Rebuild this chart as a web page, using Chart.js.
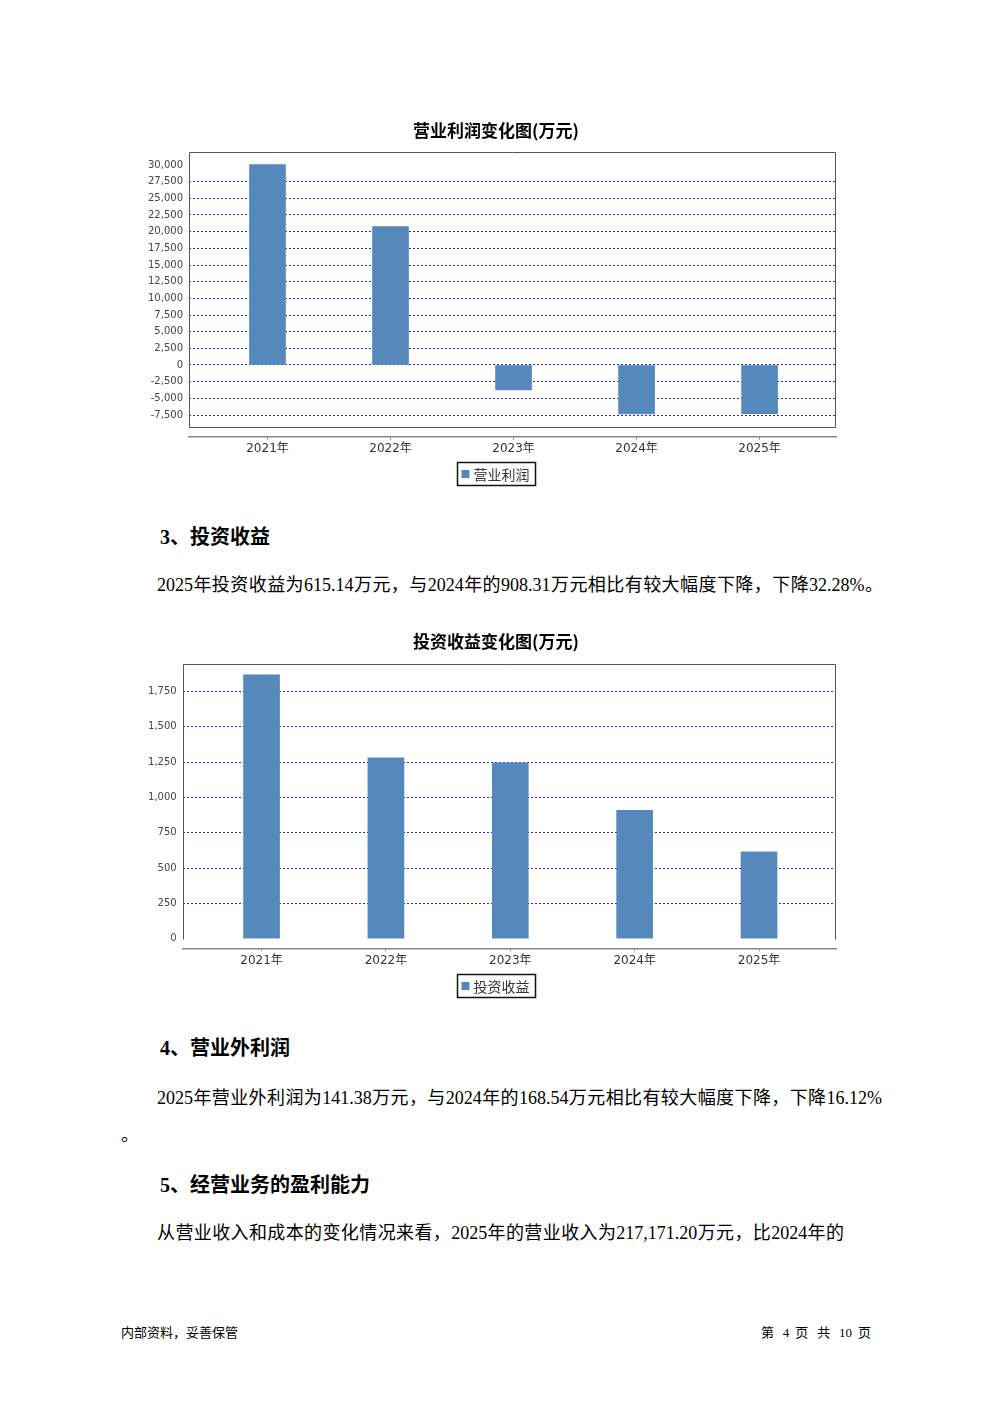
<!DOCTYPE html>
<html><head><meta charset="utf-8">
<script src="https://cdn.jsdelivr.net/npm/chart.js@4.4.1/dist/chart.umd.min.js"></script>
<style>
html,body{margin:0;padding:0;background:#fff;}
body{width:992px;height:1403px;position:relative;overflow:hidden;}
canvas{position:absolute;}
.t{position:absolute;height:30px;line-height:30px;color:#000;font-family:"Liberation Serif","Noto Sans CJK SC",serif;}
.j{text-align:justify;text-align-last:justify;text-justify:inter-character;}
.h{font-weight:bold;font-size:20px;white-space:nowrap;}
.b{font-size:18px;}
.f{font-size:13px;}
</style></head><body>
<canvas id="c1" width="720" height="385" style="left:136px;top:110px;"></canvas>
<div class="t h" style="left:160px;top:522px;">3、投资收益</div>
<div class="t b j" style="left:157px;top:570px;width:726px;">2025年投资收益为615.14万元，与2024年的908.31万元相比有较大幅度下降，下降32.28%。</div>
<canvas id="c2" width="720" height="385" style="left:136px;top:621px;"></canvas>
<div class="t h" style="left:160px;top:1033px;">4、营业外利润</div>
<div class="t b j" style="left:157px;top:1083px;width:725px;">2025年营业外利润为141.38万元，与2024年的168.54万元相比有较大幅度下降，下降16.12%</div>
<div class="t b" style="left:121px;top:1120px;">。</div>
<div class="t h" style="left:160px;top:1170px;">5、经营业务的盈利能力</div>
<div class="t b j" style="left:157px;top:1218px;width:687px;">从营业收入和成本的变化情况来看，2025年的营业收入为217,171.20万元，比2024年的</div>
<div class="t f" style="left:121px;top:1318px;white-space:nowrap;">内部资料，妥善保管</div>
<div class="t f j" style="left:761px;top:1318px;width:110px;">第 4 页 共 10 页</div>
<script>
const categories = ['2021年', '2022年', '2023年', '2024年', '2025年'];
const operatingProfit = [30050, 20750, -3750, -7350, -7300];
const investmentIncome = [1868, 1280, 1244, 908.31, 615.14];
const profitTicks = [-7500, -5000, -2500, 0, 2500, 5000, 7500, 10000, 12500, 15000, 17500, 20000, 22500, 25000, 27500, 30000];
const incomeTicks = [0, 250, 500, 750, 1000, 1250, 1500, 1750];

const BAR = '#5589bc';

const plotBox = {
  id: 'plotBox',
  afterDatasetsDraw(chart, args, opts) {
    const {ctx, chartArea: a, scales: {y}} = chart;
    const b = Math.round(y.getPixelForValue(opts.bottomValue)) + 0.5;
    const l = Math.round(a.left) + 0.5, r = Math.round(a.right) - 0.5, t = Math.round(a.top) + 0.5;
    ctx.save();
    ctx.strokeStyle = '#555';
    ctx.lineWidth = 1;
    ctx.beginPath();
    if (opts.closed) {
      ctx.rect(l, t, r - l, b - t);
    } else {
      ctx.moveTo(l, b); ctx.lineTo(l, t); ctx.lineTo(r, t); ctx.lineTo(r, b);
    }
    ctx.stroke();
    ctx.restore();
  }
};

const boxLegend = {
  id: 'boxLegend',
  afterDraw(chart, args, opts) {
    const {ctx} = chart;
    const ds = chart.data.datasets[0];
    ctx.save();
    ctx.font = '14px "Noto Sans CJK SC"';
    const tw = ctx.measureText(ds.label).width;
    const w = tw + 22, h = 23;
    const left = Math.round(chart.width / 2 - w / 2) + 0.5;
    const top = opts.top + 0.5;
    ctx.strokeStyle = '#111';
    ctx.lineWidth = 1.5;
    ctx.strokeRect(left, top, w, h);
    ctx.fillStyle = ds.backgroundColor;
    ctx.fillRect(left + 4, top + h / 2 - 4, 8, 8);
    ctx.fillStyle = '#333';
    ctx.textBaseline = 'middle';
    ctx.fillText(ds.label, left + 16, top + h / 2 + 1);
    ctx.restore();
  }
};

function makeChart(id, label, values, tickValues, cfg) {
  return new Chart(document.getElementById(id), {
    type: 'bar',
    data: {
      datasets: [{
        label: label,
        data: values.map((v, i) => ({x: i, y: v})),
        backgroundColor: BAR,
        borderWidth: 0,
        barThickness: 36
      }]
    },
    options: {
      responsive: false,
      animation: false,
      events: [],
      layout: {padding: {left: 0, right: 0, top: 0, bottom: cfg.padBottom}},
      plugins: {
        legend: {display: false},
        tooltip: {enabled: false},
        title: {
          display: true, text: cfg.title, color: '#000',
          font: {family: '"Noto Sans CJK SC"', size: 17, weight: 'bold'},
          padding: {top: 10.3, bottom: cfg.titleBottom}
        },
        plotBox: {bottomValue: cfg.boxBottom, closed: cfg.closed},
        boxLegend: {top: cfg.legendTop}
      },
      scales: {
        x: {
          type: 'linear', min: cfg.xmin, max: cfg.xmax, offset: false,
          afterBuildTicks: s => { s.ticks = categories.map((c, i) => ({value: i})); },
          afterFit: s => { s.height = 30; },
          ticks: {
            callback: v => categories[v],
            font: {family: '"DejaVu Sans", "Noto Sans CJK SC"', size: 12},
            color: '#333', padding: 2, autoSkip: false, maxRotation: 0
          },
          grid: {offset: false, drawOnChartArea: false, drawTicks: true, tickLength: 3, color: '#888'},
          border: {display: true, color: '#888', width: 1.5}
        },
        y: {
          min: cfg.ymin, max: cfg.ymax,
          afterBuildTicks: s => { s.ticks = tickValues.map(v => ({value: v})); },
          afterFit: s => { s.width = cfg.yWidth; },
          ticks: {
            callback: v => v.toLocaleString('en-US'),
            font: {family: '"DejaVu Sans"', size: 10},
            color: '#444', padding: 6
          },
          grid: {
            drawTicks: false, lineWidth: 1,
            color: c => (c.tick && cfg.noGrid.includes(c.tick.value)) ? 'rgba(0,0,0,0)' : '#2020ff'
          },
          border: {display: false, dash: [2, 2]}
        },
        rightGap: {
          type: 'linear', position: 'right', display: true,
          grid: {display: false, drawTicks: false},
          ticks: {display: false},
          border: {display: false},
          afterFit: s => { s.width = 20; }
        }
      }
    },
    plugins: [plotBox, boxLegend]
  });
}

makeChart('c1', '营业利润', operatingProfit, profitTicks, {
  title: '营业利润变化图(万元)', titleBottom: 11.3, padBottom: 28.3,
  ymin: -10755, ymax: 31950, yWidth: 53, xmin: -0.638, xmax: 4.621,
  boxBottom: -9350, closed: true, noGrid: [30000], legendTop: 352
});
makeChart('c2', '投资收益', investmentIncome, incomeTicks, {
  title: '投资收益变化图(万元)', titleBottom: 12.6, padBottom: 27.7,
  ymin: -68, ymax: 1942, yWidth: 46.7, xmin: -0.634, xmax: 4.619,
  boxBottom: 0, closed: false, noGrid: [0], legendTop: 353
});
</script>
</body></html>
